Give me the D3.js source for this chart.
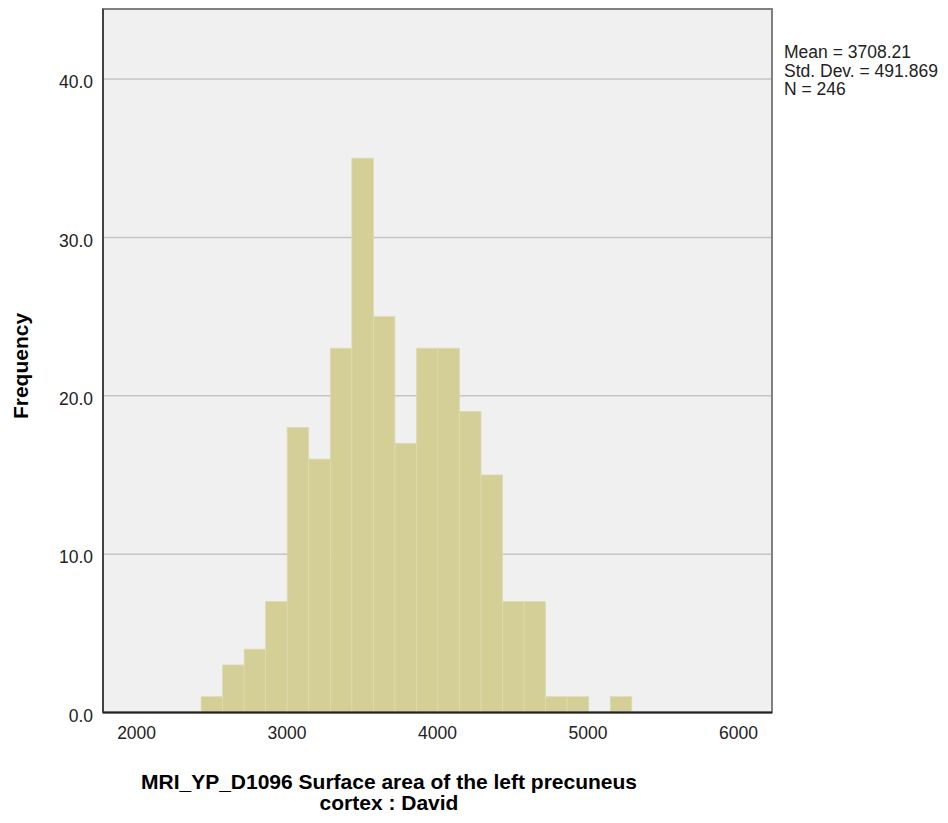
<!DOCTYPE html>
<html>
<head>
<meta charset="utf-8">
<script src="https://cdn.jsdelivr.net/npm/d3@7"></script>
<style>
  html, body { margin: 0; padding: 0; background: #ffffff; }
  svg { display: block; }
  text { font-family: "Liberation Sans", Arial, sans-serif; }
</style>
</head>
<body>
<svg id="chart" width="948" height="823"></svg>
<script>
// ---- data ----
const binLower = [2432, 2575, 2718, 2861, 3004, 3147, 3291, 3434, 3577, 3720,
                  3863, 4006, 4149, 4292, 4435, 4578, 4721, 4865, 5008, 5151];
const binUpper = [2575, 2718, 2861, 3004, 3147, 3291, 3434, 3577, 3720, 3863,
                  4006, 4149, 4292, 4435, 4578, 4721, 4865, 5008, 5151, 5294];
const counts   = [1, 3, 4, 7, 18, 16, 23, 35, 25, 17,
                  23, 23, 19, 15, 7, 7, 1, 1, 0, 1];
const xTicks = [2000, 3000, 4000, 5000, 6000];
const yTicks = [0, 10, 20, 30, 40];
const statsLines = ["Mean = 3708.21", "Std. Dev. = 491.869", "N = 246"];
const xTitle = ["MRI_YP_D1096 Surface area of the left precuneus", "cortex : David"];
const yTitle = "Frequency";

// ---- layout ----
const plot = { left: 103, right: 772, top: 9, bottom: 712.5 };
const svg = d3.select("#chart");

const x = d3.scaleLinear().domain([1780, 6226]).range([plot.left, plot.right]);
const y = d3.scaleLinear().domain([0, 44.42]).range([plot.bottom, plot.top]);

// background
svg.append("rect")
  .attr("x", plot.left).attr("y", plot.top)
  .attr("width", plot.right - plot.left).attr("height", plot.bottom - plot.top)
  .attr("fill", "#f0f0f0");

// gridlines
svg.append("g").selectAll("line")
  .data(yTicks.filter(d => d > 0))
  .join("line")
  .attr("x1", plot.left).attr("x2", plot.right)
  .attr("y1", d => y(d)).attr("y2", d => y(d))
  .attr("stroke", "#c4c4c4").attr("stroke-width", 1.5);

// bars
const bins = counts.map((c, i) => ({ x0: binLower[i], x1: binUpper[i], n: c }));
svg.append("g").selectAll("rect")
  .data(bins.filter(b => b.n > 0))
  .join("rect")
  .attr("x", d => x(d.x0))
  .attr("y", d => y(d.n))
  .attr("width", d => x(d.x1) - x(d.x0))
  .attr("height", d => y(0) - y(d.n))
  .attr("fill", "#d3cf97")
  .attr("stroke", "#dedbb0")
  .attr("stroke-width", 0.8);

// frame
svg.append("rect")
  .attr("x", plot.left).attr("y", plot.top)
  .attr("width", plot.right - plot.left).attr("height", plot.bottom - plot.top)
  .attr("fill", "none").attr("stroke", "#808080").attr("stroke-width", 2);
svg.append("line")
  .attr("x1", plot.left).attr("x2", plot.left)
  .attr("y1", plot.top).attr("y2", plot.bottom)
  .attr("stroke", "#333").attr("stroke-width", 1.6);
svg.append("line")
  .attr("x1", plot.left).attr("x2", plot.right)
  .attr("y1", plot.bottom).attr("y2", plot.bottom)
  .attr("stroke", "#222").attr("stroke-width", 1.8);

// y axis
const yAxis = svg.append("g")
  .attr("transform", `translate(${plot.left - 10},0)`)
  .call(d3.axisLeft(y).tickValues(yTicks).tickFormat(d3.format(".1f")).tickSize(0).tickPadding(0));
yAxis.select(".domain").remove();
yAxis.selectAll("text")
  .attr("dy", "0.5em")
  .attr("fill", "#222")
  .style("font-size", "17.5px")
  .style("font-family", '"Liberation Sans", Arial, sans-serif');

// x axis
const xAxis = svg.append("g")
  .attr("transform", `translate(0,${plot.bottom})`)
  .call(d3.axisBottom(x).tickValues(xTicks).tickFormat(d3.format("d")).tickSize(0).tickPadding(14));
xAxis.select(".domain").remove();
xAxis.selectAll("text")
  .attr("fill", "#222")
  .style("font-size", "17.5px")
  .style("font-family", '"Liberation Sans", Arial, sans-serif');

// stats text
svg.append("g").selectAll("text")
  .data(statsLines)
  .join("text")
  .attr("x", 784)
  .attr("y", (d, i) => 58 + i * 18.5)
  .attr("fill", "#222")
  .style("font-size", "17.5px")
  .text(d => d);

// x title
svg.append("g").selectAll("text")
  .data(xTitle)
  .join("text")
  .attr("x", 389)
  .attr("y", (d, i) => 789 + i * 21)
  .attr("text-anchor", "middle")
  .attr("fill", "#000")
  .style("font-size", "21px")
  .style("font-weight", "bold")
  .text(d => d);

// y title
svg.append("text")
  .attr("transform", "translate(28,366) rotate(-90)")
  .attr("text-anchor", "middle")
  .attr("fill", "#000")
  .style("font-size", "21px")
  .style("font-weight", "bold")
  .text(yTitle);
</script>
</body>
</html>
